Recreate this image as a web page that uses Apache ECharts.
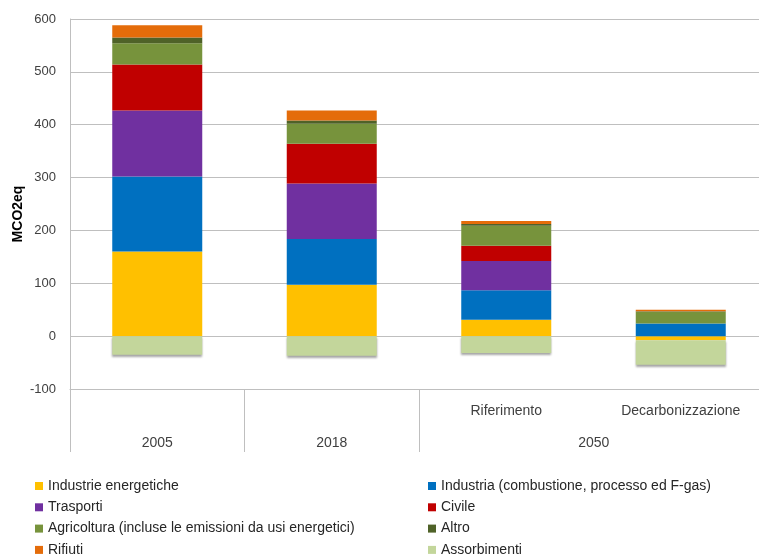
<!DOCTYPE html>
<html>
<head>
<meta charset="utf-8">
<script src="https://cdn.jsdelivr.net/npm/echarts@6/dist/echarts.min.js"></script>
<style>html,body{margin:0;padding:0;background:#fff;}#c{width:759px;height:556px;}</style>
</head>
<body>
<div id="c"></div>
<script>
const categories = ['2005', '2018', 'Riferimento', 'Decarbonizzazione'];
const groupLabels = ['2005', '2018', '2050', ''];
const yTicks = { min: -100, max: 600, interval: 100 };

const industrieEnergetiche = [160, 97, 31, -8];
const industria = [142, 87, 56, 24];
const trasporti = [125, 105, 55, 0];
const civile = [87, 75, 29, 0];
const agricoltura = [40, 38, 38, 22];
const altro = [11, 6, 3, 1];
const rifiuti = [23, 19, 6, 3];
const assorbimenti = [-35, -37, -32, -46];

const seriesNames = [
  'Industrie energetiche',
  'Industria (combustione, processo ed F-gas)',
  'Trasporti',
  'Civile',
  'Agricoltura (incluse le emissioni da usi energetici)',
  'Altro',
  'Rifiuti',
  'Assorbimenti'
];
const seriesData = [industrieEnergetiche, industria, trasporti, civile, agricoltura, altro, rifiuti, assorbimenti];
const colors = ['#FFC000', '#0070C0', '#7030A0', '#C00000', '#77933C', '#4F6228', '#E46C0A', '#C3D69B'];

const textColor = '#404040';
const gridColor = '#BFBFBF';
const font = 'Liberation Sans';

const chart = echarts.init(document.getElementById('c'), null, { renderer: 'canvas' });

const series = seriesNames.map((name, i) => ({
  name: name,
  type: 'bar',
  stack: 'total',
  barWidth: 90,
  data: seriesData[i],
  itemStyle: Object.assign({ color: colors[i] },
    i === 7 ? { shadowColor: 'rgba(0,0,0,0.35)', shadowBlur: 2, shadowOffsetY: 2 } : {}),
  emphasis: { disabled: true },
  animation: false
}));

const legendCommon = {
  orient: 'vertical',
  top: 479,
  padding: 0,
  height: 80,
  icon: 'rect',
  itemWidth: 8,
  itemHeight: 8,
  itemGap: 7.3,
  textStyle: { color: '#262626', fontFamily: font, fontSize: 14, lineHeight: 14 },
  selectedMode: false
};

chart.setOption({
  animation: false,
  color: colors,
  grid: { left: 70, top: 19, width: 698, height: 370, containLabel: false, outerBoundsMode: 'none' },
  legend: [
    Object.assign({ left: 35, data: [seriesNames[0], seriesNames[2], seriesNames[4], seriesNames[6]] }, legendCommon),
    Object.assign({ left: 428, data: [seriesNames[1], seriesNames[3], seriesNames[5], seriesNames[7]] }, legendCommon)
  ],
  xAxis: [
    {
      type: 'category',
      data: categories,
      position: 'bottom',
      axisLine: { show: true, onZero: false, lineStyle: { color: gridColor, width: 1 } },
      axisTick: {
        show: true,
        length: 63,
        lineStyle: { color: gridColor, width: 1 },
        interval: function (index) { return index <= 2; }
      },
      axisLabel: {
        interval: 0,
        margin: 15,
        color: textColor,
        fontFamily: font,
        fontSize: 14,
        formatter: function (v, idx) { return idx >= 2 ? v : ''; }
      }
    },
    {
      type: 'category',
      data: groupLabels,
      position: 'bottom',
      gridIndex: 0,
      axisLine: { show: false, onZero: false },
      axisTick: { show: false },
      axisLabel: {
        interval: 0,
        margin: 47,
        color: textColor,
        fontFamily: font,
        fontSize: 14,
        formatter: function (v) { return v === '2050' ? '{s|' + v + '}' : v; },
        rich: { s: { color: textColor, fontFamily: font, fontSize: 14, padding: [0, 0, 0, 175] } }
      }
    }
  ],
  yAxis: {
    type: 'value',
    min: yTicks.min,
    max: yTicks.max,
    interval: yTicks.interval,
    name: 'MCO2eq',
    nameLocation: 'middle',
    nameGap: 45,
    nameMoveOverlap: false,
    nameTextStyle: { color: '#000', fontFamily: font, fontSize: 14, fontWeight: 'bold', padding: [0, 20, 0, 0] },
    axisLine: { show: true, lineStyle: { color: gridColor } },
    axisTick: { show: false },
    axisLabel: { color: textColor, fontFamily: font, fontSize: 13, margin: 14 },
    splitLine: { show: true, lineStyle: { color: gridColor, width: 1 } }
  },
  series: series
});
</script>
</body>
</html>
